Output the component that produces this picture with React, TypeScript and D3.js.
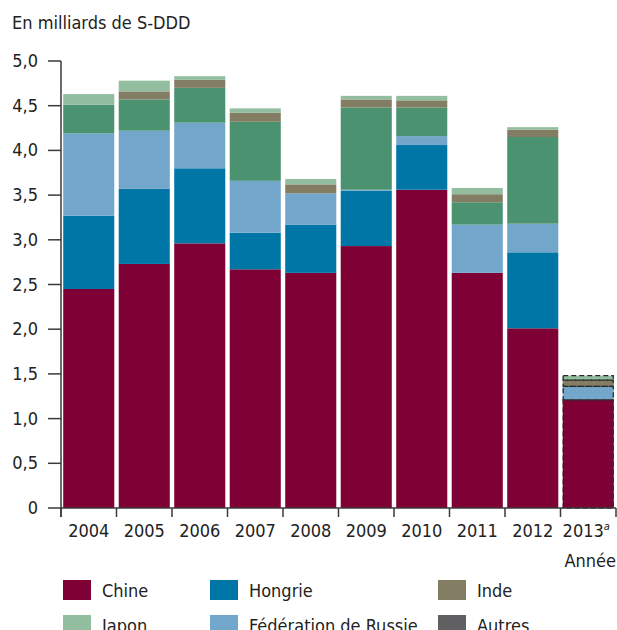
import { useEffect, useRef } from "react";
import * as d3 from "d3";

const years = ["2004", "2005", "2006", "2007", "2008", "2009", "2010", "2011", "2012", "2013"];

// values in billions of S-DDD
const chine = [2.45, 2.73, 2.96, 2.67, 2.63, 2.93, 3.56, 2.63, 2.01, 1.21];
const hongrie = [0.82, 0.84, 0.84, 0.41, 0.54, 0.62, 0.5, 0.0, 0.85, 0.0];
const russie = [0.92, 0.65, 0.51, 0.58, 0.35, 0.01, 0.1, 0.54, 0.32, 0.15];
const vert = [0.32, 0.35, 0.39, 0.66, 0.0, 0.92, 0.32, 0.25, 0.97, 0.0];
const inde = [0.0, 0.09, 0.09, 0.1, 0.1, 0.09, 0.08, 0.09, 0.08, 0.07];
const japon = [0.12, 0.12, 0.04, 0.05, 0.06, 0.04, 0.05, 0.07, 0.03, 0.05];
const autres = [0, 0, 0, 0, 0, 0, 0, 0, 0, 0];

const yTicks = [0, 0.5, 1, 1.5, 2, 2.5, 3, 3.5, 4, 4.5, 5];

const seriesKeys = ["Chine", "Hongrie", "Fédération de Russie", "vert", "Inde", "Japon", "Autres"];
const colors: Record<string, string> = {
  Chine: "#7e0034",
  Hongrie: "#0076a6",
  "Fédération de Russie": "#72a6ca",
  vert: "#4a9270",
  Inde: "#827d63",
  Japon: "#93bd9f",
  Autres: "#606062",
};

// legend layout: 3 columns, 2 visible rows
const legendItems = [
  ["Chine", "Hongrie", "Inde"],
  ["Japon", "Fédération de Russie", "Autres"],
];

const FONT = "'Liberation Sans Narrow', 'DejaVu Sans Condensed', Roboto, sans-serif";

export default function App() {
  const svgRef = useRef<SVGSVGElement>(null);

  useEffect(() => {
    if (!svgRef.current) return;
    const svg = d3.select(svgRef.current);
    svg.selectAll("*").remove();

    const table = years.map((year, i) => ({
      year,
      Chine: chine[i],
      Hongrie: hongrie[i],
      "Fédération de Russie": russie[i],
      vert: vert[i],
      Inde: inde[i],
      Japon: japon[i],
      Autres: autres[i],
    }));

    const x = d3.scaleBand().domain(years).range([61, 616]).paddingInner(0.08).paddingOuter(0.04);
    const y = d3.scaleLinear().domain([0, 5]).range([508, 61]);

    const stack = d3.stack<any>().keys(seriesKeys);
    const layers = stack(table);

    // bars
    layers.forEach((layer) => {
      svg
        .append("g")
        .selectAll("rect")
        .data(layer.filter((d) => d[1] - d[0] > 0))
        .join("rect")
        .attr("x", (d) => x(d.data.year)!)
        .attr("width", x.bandwidth())
        .attr("y", (d) => y(d[1]))
        .attr("height", (d) => y(d[0]) - y(d[1]))
        .attr("fill", colors[layer.key]);
    });

    // projected year: dashed outlines
    const last = years[years.length - 1];
    layers.forEach((layer) => {
      const d = layer[years.length - 1];
      if (d[1] - d[0] <= 0) return;
      svg
        .append("rect")
        .attr("x", x(last)! + 0.5)
        .attr("width", x.bandwidth() - 1)
        .attr("y", y(d[1]))
        .attr("height", y(d[0]) - y(d[1]))
        .attr("fill", "none")
        .attr("stroke", "#2a2a2a")
        .attr("stroke-width", 1.3)
        .attr("stroke-dasharray", "5,3");
    });

    // y axis
    const axisColor = "#3a3a3a";
    svg
      .append("line")
      .attr("x1", 61)
      .attr("x2", 61)
      .attr("y1", y(5))
      .attr("y2", y(0) + 9)
      .attr("stroke", axisColor)
      .attr("stroke-width", 1.5);
    yTicks.forEach((t) => {
      svg
        .append("line")
        .attr("x1", 48)
        .attr("x2", 61)
        .attr("y1", y(t))
        .attr("y2", y(t))
        .attr("stroke", axisColor)
        .attr("stroke-width", 1.5);
      svg
        .append("text")
        .attr("x", 38)
        .attr("y", y(t) + 6)
        .attr("text-anchor", "end")
        .attr("font-family", FONT)
        .attr("font-size", 18)
        .attr("fill", "#222")
        .text(t === 0 ? "0" : d3.format(".1f")(t).replace(".", ","));
    });

    // x axis
    svg
      .append("line")
      .attr("x1", 61)
      .attr("x2", 616)
      .attr("y1", y(0))
      .attr("y2", y(0))
      .attr("stroke", axisColor)
      .attr("stroke-width", 1.5);
    const bounds = years.map((yr) => x(yr)! - (x.step() * 0.08) / 2).concat([616]);
    bounds.forEach((b) => {
      svg
        .append("line")
        .attr("x1", b)
        .attr("x2", b)
        .attr("y1", y(0))
        .attr("y2", y(0) + 9)
        .attr("stroke", axisColor)
        .attr("stroke-width", 1.5);
    });
    years.forEach((yr, i) => {
      const t = svg
        .append("text")
        .attr("x", x(yr)! + x.bandwidth() / 2 - (i === years.length - 1 ? 2 : 0))
        .attr("y", 537)
        .attr("text-anchor", "middle")
        .attr("font-family", FONT)
        .attr("font-size", 18)
        .attr("fill", "#222");
      t.append("tspan").text(yr);
      if (i === years.length - 1) {
        t.append("tspan")
          .attr("dy", -7)
          .attr("font-size", 11)
          .attr("font-style", "italic")
          .text("a");
      }
    });
    svg
      .append("text")
      .attr("x", 616)
      .attr("y", 567)
      .attr("text-anchor", "end")
      .attr("font-family", FONT)
      .attr("font-size", 18)
      .attr("fill", "#222")
      .text("Année");

    // title
    svg
      .append("text")
      .attr("x", 12)
      .attr("y", 29)
      .attr("font-family", FONT)
      .attr("font-size", 18)
      .attr("fill", "#222")
      .text("En milliards de S-DDD");

    // legend
    const colX = [63, 210, 438];
    legendItems.forEach((row, r) => {
      row.forEach((key, c) => {
        const ly = 580 + r * 35;
        svg
          .append("rect")
          .attr("x", colX[c])
          .attr("y", ly)
          .attr("width", 28)
          .attr("height", 20)
          .attr("fill", colors[key]);
        svg
          .append("text")
          .attr("x", colX[c] + 39)
          .attr("y", ly + 17)
          .attr("font-family", FONT)
          .attr("font-size", 18)
          .attr("fill", "#222")
          .text(key);
      });
    });
  }, []);

  return (
    <svg
      ref={svgRef}
      width={617}
      height={630}
      style={{ position: "absolute", left: 0, top: 0, background: "#fff" }}
    ></svg>
  );
}
